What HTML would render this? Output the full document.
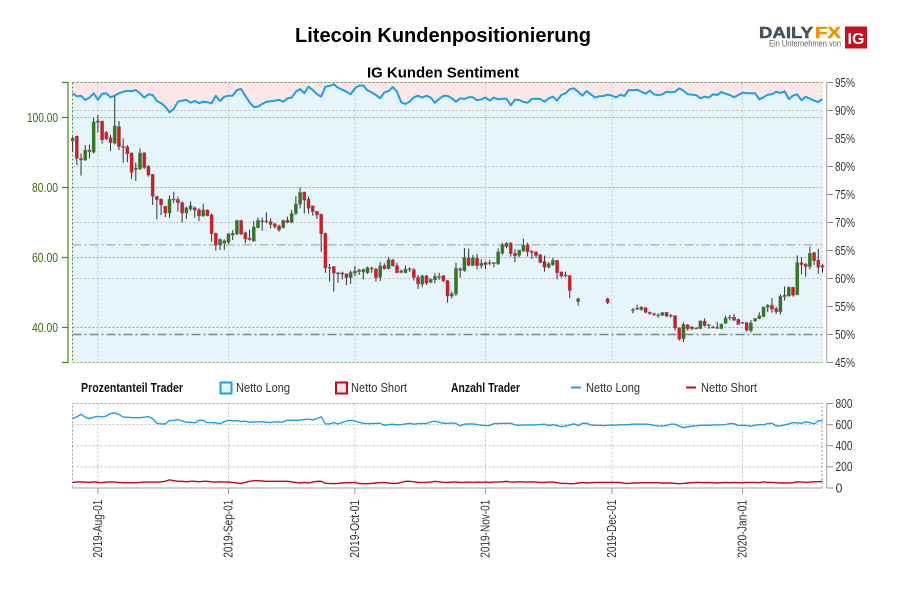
<!DOCTYPE html>
<html lang="de">
<head>
<meta charset="utf-8">
<title>Litecoin Kundenpositionierung</title>
<style>
html,body{margin:0;padding:0;background:#fff;}
#chart{display:block;width:900px;height:600px;}
text{font-family:"Liberation Sans",sans-serif;}
.narrow{font-family:"Liberation Sans Narrow","Liberation Sans",sans-serif;font-size:12.5px;fill:#333;}
.legend-head{font-family:"Liberation Sans Narrow","Liberation Sans",sans-serif;font-size:12.5px;font-weight:bold;fill:#111;}
</style>
</head>
<body>
<svg id="chart" xmlns="http://www.w3.org/2000/svg" width="900" height="600" viewBox="0 0 900 600">
  <rect x="0" y="0" width="900" height="600" fill="#ffffff"/>
  <text x="443" y="42" text-anchor="middle" font-size="20" font-weight="bold" fill="#000" textLength="296" lengthAdjust="spacingAndGlyphs">Litecoin Kundenpositionierung</text>
  <text x="443" y="77.5" text-anchor="middle" font-size="15" font-weight="bold" fill="#000" textLength="152" lengthAdjust="spacingAndGlyphs">IG Kunden Sentiment</text>

  <g>
    <text x="759" y="38" font-size="15.5" font-weight="bold" fill="#46535f" stroke="#46535f" stroke-width="0.5" textLength="54" lengthAdjust="spacingAndGlyphs">DAILY</text>
    <text x="815" y="38" font-size="15.5" font-weight="bold" fill="#f29400" stroke="#f29400" stroke-width="0.5" textLength="26" lengthAdjust="spacingAndGlyphs">FX</text>
    <text x="769" y="46.5" font-size="9.5" fill="#666" textLength="72" lengthAdjust="spacingAndGlyphs">Ein Unternehmen von</text>
    <rect x="845" y="26.5" width="22" height="22" fill="#c8101c"/>
    <text x="856" y="44" text-anchor="middle" font-size="16" font-weight="bold" fill="#fff">IG</text>
  </g>

  <g id="plot-main"></g>
  <g id="plot-lower"></g>

  <g>
    <text x="81" y="392" class="legend-head" textLength="102" lengthAdjust="spacingAndGlyphs">Prozentanteil Trader</text>
    <rect x="220.5" y="382.5" width="11" height="11" fill="#e6f4fc" stroke="#1a9fe8" stroke-width="2"/>
    <text x="236" y="392" class="narrow" textLength="54" lengthAdjust="spacingAndGlyphs">Netto Long</text>
    <rect x="336" y="382.5" width="11" height="11" fill="#f6e8ea" stroke="#d0021b" stroke-width="2"/>
    <text x="351" y="392" class="narrow" textLength="56" lengthAdjust="spacingAndGlyphs">Netto Short</text>
    <text x="451" y="392" class="legend-head" textLength="69" lengthAdjust="spacingAndGlyphs">Anzahl Trader</text>
    <line x1="571" y1="387.5" x2="581" y2="387.5" stroke="#1a9fe8" stroke-width="2"/>
    <text x="586" y="392" class="narrow" textLength="54" lengthAdjust="spacingAndGlyphs">Netto Long</text>
    <line x1="686" y1="387.5" x2="696" y2="387.5" stroke="#d0021b" stroke-width="2"/>
    <text x="701" y="392" class="narrow" textLength="56" lengthAdjust="spacingAndGlyphs">Netto Short</text>
  </g>
</svg>
<script>
const opens = [
93.3,94.7,88.3,87.85,90.7,90.05,99,99,95.75,94.2,
92.6,97.4,91.75,91.65,89.85,85.1,85.3,89.95,86.05,83.75,
77.5,76.7,74.7,72.7,76.7,76.6,75.7,72.7,73.85,74.2,
73.6,71.85,73.6,72.15,66.9,63.55,64.05,64.3,66.4,66.7,
70.6,67.1,65.5,64.7,68.5,70.5,70.5,70.25,69.6,69,
68.5,70.7,70.05,72.6,75.2,78.7,76.7,74.8,73.2,72.35,
66.9,57.2,57.4,55.65,55.6,55.3,54.25,55.5,56.35,55.85,
55.65,57,56.7,54.35,57.7,56.8,59.3,57.7,56.15,55.65,
56.8,56.5,54.35,52.35,54.75,52.9,53.6,54.45,54.8,53.4,
49,49.6,56.8,56.25,59.85,57.7,59.85,57.6,58.55,58.35,
58.35,58.15,61.2,63.1,64.15,61.2,60.6,61.85,63.65,61.75,
61.6,60.8,58.9,57.2,57.95,59.2,55.85,55,54.8,null,
47.4,null,null,null,null,null,null,48.25,null,null,
null,null,null,44.8,45.5,45.1,45.65,44.35,43.95,43.5,
43.5,44.35,43.3,43.4,39.85,36.8,40.8,39.7,39.85,39.7,
41.85,40.55,40.15,40.05,39.7,41.2,42.7,43,42.35,41.45,
41.4,39.1,41.85,42.55,43.1,45.75,46.35,45.4,44.45,48.8,
49,51.5,49.4,58.55,58.15,57.4,61.4,59.3,57.7];
const closes = [
94.05,88.3,87.85,90.7,90.25,98.8,98.6,93.6,93.85,92.8,
97.6,91.65,91.4,89.65,84.3,85.5,89.85,85.7,83.55,77.5,
76.5,75,72.7,76.7,76.5,75.6,72.7,74.2,74.8,73.5,
71.85,73.6,71.95,66.8,63.55,65.2,64.8,66.8,66.9,70.6,
66.7,65.3,65.1,68.7,70.6,70.15,70.3,69.4,68.8,67.85,
70.6,70.05,72.6,75.3,78.6,76.4,74.05,73.1,72.15,66.8,
57,57,55.5,55.3,55.2,54.25,55.75,56.15,55.95,56.6,
57.1,56.8,54.25,57.6,56.7,59.4,57.6,55.65,55.75,56.7,
56.5,54.25,52.45,54.75,52.65,53.75,54.6,54.6,53.3,49,
49.7,56.9,56.35,60.05,57.7,59.85,57.7,58.35,57.95,58.55,
58.55,61.6,63.65,64.05,61.1,60.45,62.05,63.55,61.6,61.4,
60.55,58.6,57.2,58.25,59.2,55.65,54.7,54.7,50.55,null,
48.25,null,null,null,null,null,null,47.1,null,null,
null,null,null,45.1,45.2,45.85,44.35,43.95,43.65,43.65,
44.25,43.2,43.5,39.85,36.7,40.9,39.6,40.15,39.6,41.85,
40.55,40.8,39.95,39.75,40.9,42.7,43,42.05,40.9,41.3,
39.2,41.3,42.6,43.4,45.85,46.35,45.2,44.5,48.9,49.3,
51.5,49.2,58.55,57.95,57.4,61.2,59.1,57.2,57.2];
const highs = [
94.5,94.7,89.75,92.1,92.3,99.95,100.7,99,96.1,95,
105.95,99,94.05,92.1,90.05,87.1,91.2,90.05,86.45,83.85,
77.5,76.9,74.7,77.7,78.8,77.4,76,74.5,76,74.6,
74.05,75.4,73.75,72.6,67.1,65.5,65.2,66.9,67.85,70.8,
70.8,67.4,67.95,70.4,71.4,71.4,72.9,71.2,69.95,69.4,
70.8,71.65,73.6,77.55,80,78.8,77.4,74.8,73.3,72.6,
67.1,58.15,57.6,55.85,55.95,55.5,56.25,57.6,56.8,56.8,
57.4,57.4,57.1,58.7,58.35,60.05,59.6,58.55,56.6,57.75,
57.2,57,55,55.1,55,54.05,55.5,55.65,55,53.6,
50.25,58.55,57.2,62.7,62.5,60.7,61,59.5,58.9,59.3,
58.7,62.6,64.25,64.35,64.35,62.35,62.25,65.4,64.25,62.15,
61.75,61,60.55,58.7,59.85,59.3,56.05,55.95,55,null,
48.5,null,null,null,null,null,null,48.5,null,null,
null,null,null,45.55,46.45,46.05,45.85,44.6,44.25,44.05,
44.45,44.45,43.85,43.5,40.05,41.5,41,40.45,40.05,42.05,
42.6,41,40.45,41.6,41.2,43.4,43.6,43.85,42.6,41.6,
41.6,42.15,42.7,44.35,45.95,46.7,48.4,45.95,49.5,51.75,
51.7,51.7,60.6,60.05,58.35,63.1,61.6,62.45,58.15];
const lows = [
90.25,86.45,83.4,87.6,88.3,89.75,95.7,92.6,93.6,90.4,
92.3,90.7,87.1,87.2,82.4,81.85,85,85.3,83.1,75,
70.9,72.1,71.5,71.4,75.5,73.1,69.95,71,73.3,71.4,
70.4,71.65,71.75,64.5,61.95,62.15,62.15,63.85,65,66.4,
66.4,64.05,64.8,64.5,68.3,67.65,69.75,68.3,68.3,67.4,
68.3,69.75,69.75,72.15,74.05,72.6,72.6,71.95,71,61.65,
55.65,53.1,50.25,52.8,53.75,52.15,52.45,54.7,55,53.75,
55.3,55.65,53.1,53.3,56.6,56.6,57.4,55.5,55.5,55.5,
55.85,53.4,51,51.5,52.15,52.65,52.65,53.6,53.1,47.1,
48.3,49,54.25,55.95,57.6,57.6,56.6,56.9,56.7,57.75,
57.2,57.95,60.8,62.65,60.25,58.7,60.05,61.6,60.25,59.6,
59.95,58.35,55.95,56.9,57.6,53.75,54.25,54.35,48.35,null,
46.25,null,null,null,null,null,null,46.7,null,null,
null,null,null,44.05,45,44.8,44.05,43.65,43.3,42.8,
43.3,43,42.8,39.1,36.25,35.85,39.1,39.2,39.5,39.5,
40.25,39.6,39.75,39.6,39.5,41,42.05,41.8,40.7,41.1,
38.8,38.55,41.65,42.35,42.9,44.45,44.25,43.85,43.7,47.7,
48.8,48.8,49.2,55.2,54.5,56.6,57.85,55.3,55.65];
const sentimentLong = [
93.07,92.53,92.65,91.9,92.3,93.07,91.9,93,93.07,92.35,
92.65,93.07,93.36,93.5,93.42,93.66,93.07,92.3,92.9,92.77,
91.7,91.3,90.7,89.67,90.27,91.58,91.76,91.9,91.4,91.7,
91.3,91.58,91.46,91.3,92.6,91.7,92.47,92.65,92.65,93.66,
93.84,92.65,91.46,90.6,90.7,91.16,91.58,91.64,91.76,91.9,
91.58,92.17,92.3,93.36,93.84,93.07,94.26,93.66,92.9,92.47,
94.26,94.38,94.67,94.08,93.72,93.36,92.9,93.96,94.44,94.44,
93.6,93.25,92.77,92.17,93.25,93.48,94.2,93.36,91.46,91.16,
91.58,92.35,92.65,92.3,92.65,92.3,91.4,92.05,92.6,92.6,
92.17,91.58,92.17,92.05,92.35,92.35,91.82,92,92.3,91.76,
92.3,92,92.1,92.1,90.92,91.94,91.88,91.52,91.4,92.05,
92.1,92.05,91.58,92.17,92.47,91.76,92.77,93.07,93.8,93.96,
93.36,92.65,93.48,92.9,92.3,92.53,92.59,92.83,92.65,92.35,
92.83,92.59,93.66,93.6,93.72,93.36,93,93.54,92.9,92.71,
92.9,93.36,93.25,93.36,93.96,93.54,92.9,92.83,92.77,92.17,
92.47,92.3,92.9,92.77,93.3,93,92.77,92.35,92.77,93.19,
93.07,93.07,93.07,92,92.35,92.83,92.9,93.36,93.12,93.42,
92.05,92.65,92.9,91.82,92.47,92.1,91.76,91.52,92.05];
const tradersLong = [
660,673,698,670,657,670,679,673,682,704,
710,698,670,670,666,666,666,670,676,657,
613,607,607,638,641,648,635,622,622,616,
641,641,619,619,616,610,629,641,635,638,
629,632,622,626,626,629,622,619,626,626,
626,644,641,641,644,648,651,644,657,673,
607,607,619,607,619,635,641,635,622,613,
610,610,613,613,594,600,604,597,600,607,
613,604,610,610,610,626,632,622,613,613,
616,610,588,604,607,607,600,594,591,591,
610,610,613,613,613,597,594,597,597,597,
597,600,604,591,600,591,581,588,597,607,
591,613,613,597,594,594,591,594,597,594,
600,597,600,604,604,604,604,600,594,588,
585,591,604,604,585,572,578,588,588,594,
594,594,597,597,597,600,610,610,591,594,
591,585,594,600,597,610,613,588,588,597,
607,619,616,613,626,619,607,635,638];
const tradersShort = [
53,56,59,56,53,59,53,50,56,59,
56,53,50,50,50,50,53,56,56,56,
56,59,63,78,69,63,63,59,63,63,
59,63,63,59,56,59,56,56,53,47,
44,53,63,69,69,66,63,63,63,63,
63,63,59,53,47,53,47,56,63,63,
44,44,41,44,47,50,50,53,44,41,
41,44,47,50,53,47,44,44,53,63,
63,59,53,53,53,56,63,59,53,53,
56,56,53,53,56,53,56,53,56,53,
56,56,59,63,56,56,59,59,56,59,
56,53,53,56,56,50,44,44,41,41,
47,53,47,50,53,53,53,53,53,53,
53,44,44,47,47,50,50,50,50,50,
47,47,47,44,41,44,47,50,53,53,
50,53,50,47,50,53,50,53,50,50,
53,53,53,50,59,53,53,50,47,47,
47,50,59,56,53,56,59,59,63];
const dateTickDays = [6,37,67,98,128,159];
const dateTickLabels = ['2019-Aug-01','2019-Sep-01','2019-Oct-01','2019-Nov-01','2019-Dec-01','2020-Jan-01'];
const priceTicks = [100,80,60,40];
const percentTicks = [95,90,85,80,75,70,65,60,55,50,45];
const percentGrid = [90,80,70,60];
const countTicks = [800,600,400,200,0];
const priceLevel = 63.6;
const percentLevel = 50;

const SVGNS = 'http://www.w3.org/2000/svg';
const L = 72.5, R = 822, T = 82.5, B = 362.5, T2 = 403.5, B2 = 488;
function xDay(i){ return 72.6 + i * 4.213; }
function yPrice(p){ return 117.5 + (100 - p) * 3.5; }
function yPercent(v){ return T + (95 - v) * 5.6; }
function yCount(v){ return B2 - v * (B2 - T2) / 800; }
function mk(tag, attrs, parent){
  const e = document.createElementNS(SVGNS, tag);
  for (const k in attrs) e.setAttribute(k, attrs[k]);
  parent.appendChild(e);
  return e;
}
const main = document.getElementById('plot-main');
const lower = document.getElementById('plot-lower');
let el;

/* backgrounds */
el = mk('rect', {x:L, y:T, width:R-L, height:B-T, fill:'#fce6e7'}, main);



const linePts = sentimentLong.map((v,i) => xDay(i).toFixed(1) + ',' + yPercent(v).toFixed(1));
el = mk('polygon', {points: L + ',' + B + ' ' + L + ',' + yPercent(sentimentLong[0]).toFixed(1) + ' ' + linePts.join(' ') + ' ' + R + ',' + yPercent(sentimentLong[sentimentLong.length-1]).toFixed(1) + ' ' + R + ',' + B, fill:'#e6f4fc'}, main);



/* grid main */
percentGrid.forEach(v => {
  el = mk('line', {x1:L, x2:R, y1:yPercent(v), y2:yPercent(v), stroke:'#bdbdbd', 'stroke-width':1, 'stroke-dasharray':'2 2'}, main);
  
  
});
priceTicks.forEach(p => {
  el = mk('line', {x1:L, x2:R, y1:yPrice(p), y2:yPrice(p), stroke:'#86bd62', 'stroke-width':1, 'stroke-dasharray':'2 2'}, main);
  
  
});
dateTickDays.forEach(d => {
  el = mk('line', {x1:xDay(d), x2:xDay(d), y1:T, y2:B, stroke:'#c2c6c8', 'stroke-width':1, 'stroke-dasharray':'2 2'}, main);
  
  
});

/* frame */
el = mk('line', {x1:L, x2:R, y1:T, y2:T, stroke:'#6f7a4a', 'stroke-width':1, 'stroke-dasharray':'2 2'}, main);


el = mk('line', {x1:L, x2:R, y1:B, y2:B, stroke:'#6fa84c', 'stroke-width':1, 'stroke-dasharray':'2 2'}, main);


el = mk('line', {x1:L, x2:L, y1:T, y2:B, stroke:'#5a8a3c', 'stroke-width':1, 'stroke-dasharray':'2 2'}, main);


el = mk('line', {x1:R, x2:R, y1:T, y2:B, stroke:'#c2c6c8', 'stroke-width':1, 'stroke-dasharray':'2 2'}, main);



/* reference levels */
el = mk('line', {x1:L, x2:R, y1:yPrice(priceLevel), y2:yPrice(priceLevel), stroke:'#a4acb2', 'stroke-width':1.2, 'stroke-dasharray':'9 3 2 3'}, main);


el = mk('line', {x1:L, x2:R, y1:yPercent(percentLevel), y2:yPercent(percentLevel), stroke:'#7d8589', 'stroke-width':1.6, 'stroke-dasharray':'9 3 2 3'}, main);



/* sentiment line */
el = mk('polyline', {points: linePts.join(' '), fill:'none', stroke:'#1a9fe8', 'stroke-width':2, 'stroke-linejoin':'round'}, main);



/* candles */
opens.forEach((o,i) => {
  const c = closes[i];
  if (o === null || c === null) return;
  const x = xDay(i);
  const up = c >= o;
  const g = mk('g', {}, main);
  
  
  const w = mk('line', {x1:x, x2:x, y1:yPrice(highs[i]), y2:yPrice(lows[i]), stroke:'#111', 'stroke-width':1, 'stroke-opacity':0.85}, g);
  
  
  const top = yPrice(Math.max(o,c));
  const h = Math.max(1, Math.abs(yPrice(o) - yPrice(c)));
  const b = mk('rect', {x:x-1.6, y:top, width:3.2, height:h, fill: up ? '#2c7a16' : '#e0141e', stroke:'#6d6d6d', 'stroke-width':0.5, 'stroke-opacity':0.7}, g);
  
  
});

/* left axis */
el = mk('polyline', {points:'62,'+T+' 68,'+T+' 68,'+B+' 62,'+B, fill:'none', stroke:'#3f8a10', 'stroke-width':1.2}, main);


priceTicks.forEach(p => {
  const y = yPrice(p);
  el = mk('line', {x1:62, x2:68, y1:y, y2:y, stroke:'#3f8a10', 'stroke-width':1.2}, main);
  
  
  const label = p.toFixed(2);
  el = mk('text', {x:58, y:y+4.3, 'text-anchor':'end', class:'narrow', style:'fill:#2f7008', textLength: label.length > 5 ? 31 : 26, lengthAdjust:'spacingAndGlyphs'}, main);
  el.textContent = label;
  
  
});

/* right axis main */
el = mk('line', {x1:826.7, x2:826.7, y1:T, y2:B, stroke:'#b5b5b5', 'stroke-width':1.3}, main);


percentTicks.forEach(v => {
  const y = yPercent(v);
  el = mk('line', {x1:826.7, x2:833, y1:y, y2:y, stroke:'#8d8d8d', 'stroke-width':1}, main);
  
  
  el = mk('text', {x:835, y:y+4.3, class:'narrow', textLength:20, lengthAdjust:'spacingAndGlyphs'}, main);
  el.textContent = v + '%';
  
  
});

/* lower panel */
countTicks.slice(1,4).forEach(v => {
  el = mk('line', {x1:L, x2:R, y1:yCount(v), y2:yCount(v), stroke:'#bdbdbd', 'stroke-width':1, 'stroke-dasharray':'2 2'}, lower);
  
  
});
dateTickDays.forEach(d => {
  el = mk('line', {x1:xDay(d), x2:xDay(d), y1:T2, y2:B2, stroke:'#c2c6c8', 'stroke-width':1, 'stroke-dasharray':'2 2'}, lower);
  
  
});
el = mk('rect', {x:L, y:T2, width:R-L, height:B2-T2, fill:'none', stroke:'#9a9a9a', 'stroke-width':1, 'stroke-dasharray':'2 2'}, lower);


el = mk('line', {x1:L, x2:R, y1:B2, y2:B2, stroke:'#b5b5b5', 'stroke-width':1.2}, lower);



el = mk('polyline', {points: tradersLong.map((v,i) => xDay(i).toFixed(1) + ',' + yCount(v).toFixed(1)).join(' '), fill:'none', stroke:'#1a9fe8', 'stroke-width':1.4}, lower);


el = mk('polyline', {points: tradersShort.map((v,i) => xDay(i).toFixed(1) + ',' + yCount(v).toFixed(1)).join(' '), fill:'none', stroke:'#d0021b', 'stroke-width':1.4}, lower);



el = mk('line', {x1:826.7, x2:826.7, y1:T2, y2:B2, stroke:'#b5b5b5', 'stroke-width':1.3}, lower);


countTicks.forEach(v => {
  const y = yCount(v);
  el = mk('line', {x1:826.7, x2:833, y1:y, y2:y, stroke:'#8d8d8d', 'stroke-width':1}, lower);
  
  
  el = mk('text', {x:835.5, y:y+4.3, class:'narrow'}, lower);
  if (v > 0) { el.setAttribute('textLength', 17); el.setAttribute('lengthAdjust', 'spacingAndGlyphs'); }
  el.textContent = String(v);
  
  
});

dateTickDays.forEach((d,k) => {
  const x = xDay(d);
  el = mk('line', {x1:x, x2:x, y1:B2, y2:494, stroke:'#9a9a9a', 'stroke-width':1}, lower);
  
  
  el = mk('text', {x:x+4, y:557.7, class:'narrow', transform:'rotate(-90 ' + (x+4) + ' 557.7)', textLength:58, lengthAdjust:'spacingAndGlyphs'}, lower);
  el.textContent = dateTickLabels[k];
  
  
});
</script>
</body>
</html>
